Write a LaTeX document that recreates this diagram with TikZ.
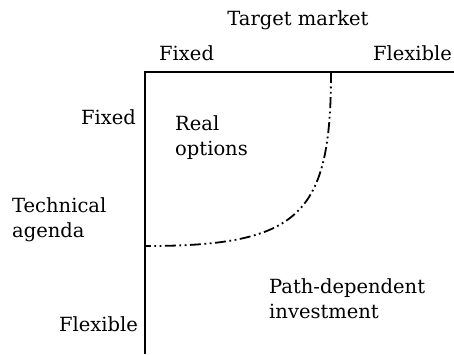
\documentclass[tikz,border=0pt]{standalone}
\usepackage{fontspec}
\setmainfont{DejaVu Serif}
\begin{document}
\begin{tikzpicture}[x=1pt,y=-1pt,
  lab/.style={font=\fontsize{19.5}{25}\selectfont,inner sep=0pt},
  axis/.style={line width=1.4pt},
  bound/.style={line width=1.8pt,dash pattern=on 11pt off 3.5pt on 1.8pt off 3.5pt on 1.8pt off 3.5pt}]
\useasboundingbox (0,0) rectangle (454,354);
\coordinate (corner) at (145,72);
\coordinate (right) at (454,72);
\coordinate (bottom) at (145,354);
\coordinate (ctop) at (331,72);
\coordinate (cleft) at (146,246);
\draw[axis] (right) -- (corner) -- (bottom);
\draw[bound] (ctop) .. controls (331,215) and (300,246) .. (cleft);
\node[lab] (tm) at (298,20) {Target market};
\node[lab,anchor=west] (tf) at (159,53) {Fixed};
\node[lab,anchor=east] (tx) at (452,53) {Flexible};
\node[lab,anchor=east] (lf) at (136,117) {Fixed};
\node[lab,anchor=west,align=left] (ro) at (175,138) {Real\\options};
\node[lab,anchor=west,align=left] (ta) at (12,220) {Technical\\agenda};
\node[lab,anchor=east] (lx) at (138,324) {Flexible};
\node[lab,anchor=west,align=left] (pd) at (269,299) {Path-dependent\\investment};
\end{tikzpicture}
\end{document}
